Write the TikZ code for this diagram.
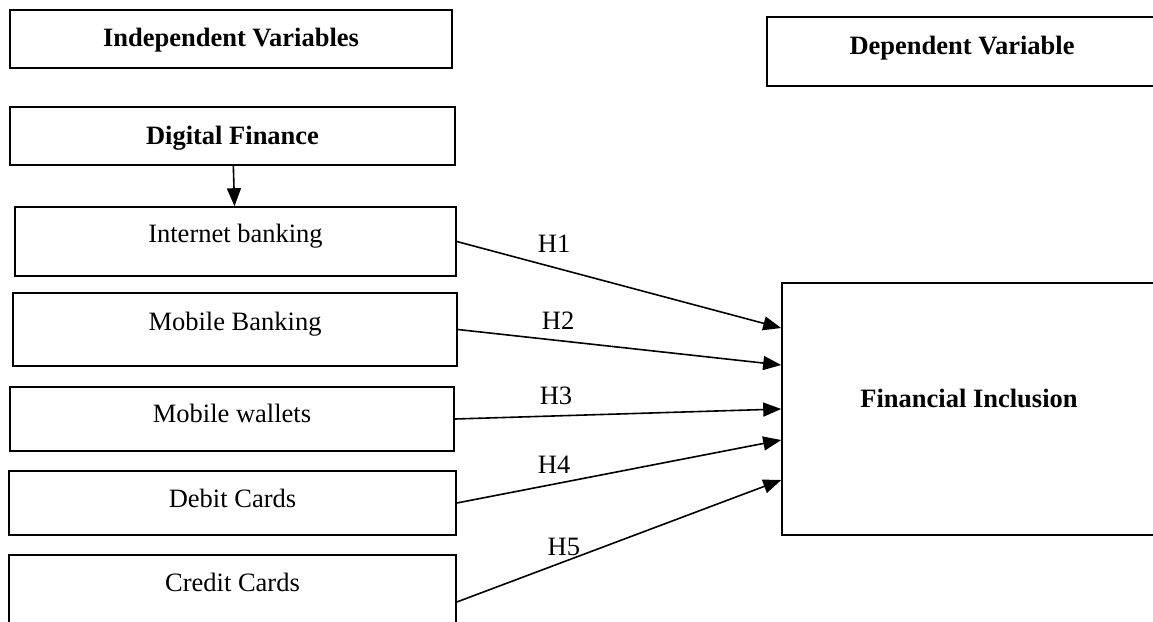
\documentclass[tikz,border=0pt]{standalone}
\usepackage{fontspec}
\setmainfont{Liberation Serif}
\usetikzlibrary{arrows.meta}

\begin{document}
\begin{tikzpicture}[x=1pt,y=-1pt,>={Triangle[length=18pt,width=14pt]}]
  \tikzstyle{vbox}=[draw,line width=1.6pt,inner sep=0pt,minimum width=443pt,
    text height=20pt,align=center,font=\fontsize{26.5}{32}\selectfont]
  \tikzstyle{hdr}=[vbox,font=\fontsize{26.5}{32}\selectfont\bfseries]
  \tikzstyle{hyp}=[->,line width=1.6pt]
  \tikzstyle{hlab}=[inner sep=0pt,font=\fontsize{26.5}{32}\selectfont]
  \useasboundingbox (0,0) rectangle (1153,621);
  \clip (0,0) rectangle (1153,621);
  % headings
  \node[hdr,minimum width=442pt,minimum height=58pt,text depth=6pt] (iv) at (231,39) {Independent Variables};
  \node[hdr,minimum width=390pt,minimum height=69pt,text depth=15pt] (dv) at (962,51.5) {Dependent Variable};
  \node[hdr,minimum width=445pt,minimum height=58pt,text depth=4pt] (df) at (232.5,136) {Digital Finance};
  % digital finance items
  \node[vbox,minimum width=441pt,minimum height=69pt,text depth=19pt] (ib) at (235.5,241.5) {Internet banking};
  \node[vbox,minimum width=444pt,minimum height=73pt,text depth=19pt] (mb) at (235,329.5) {Mobile Banking};
  \node[vbox,minimum width=444pt,minimum height=64pt,text depth=14pt] (mw) at (232,419) {Mobile wallets};
  \node[vbox,minimum width=447pt,minimum height=64pt,text depth=12pt] (dc) at (232.5,503) {Debit Cards};
  \node[vbox,minimum width=447pt,minimum height=94pt,text depth=42pt] (cc) at (232.5,602) {Credit Cards};
  % outcome
  \node[hdr,minimum width=374pt,minimum height=252pt,text depth=24pt] (fi) at (969,409) {Financial Inclusion};
  \draw[hyp] (df) -- (ib);
  \draw[hyp] (ib.east) -- node[hlab,pos=.3,yshift=24pt] {H1} ([yshift=81pt]fi.west);
  \draw[hyp] (mb.east) -- node[hlab,pos=.31,yshift=20pt] {H2} ([yshift=44pt]fi.west);
  \draw[hyp] (mw.east) -- node[hlab,pos=.31,yshift=20pt] {H3} (fi.west);
  \draw[hyp] (dc.east) -- node[hlab,pos=.3,yshift=19pt] {H4} ([yshift=-31pt]fi.west);
  \draw[hyp] (cc.east) -- node[hlab,pos=.33,yshift=15pt] {H5} ([yshift=-71pt]fi.west);
\end{tikzpicture}
\end{document}
